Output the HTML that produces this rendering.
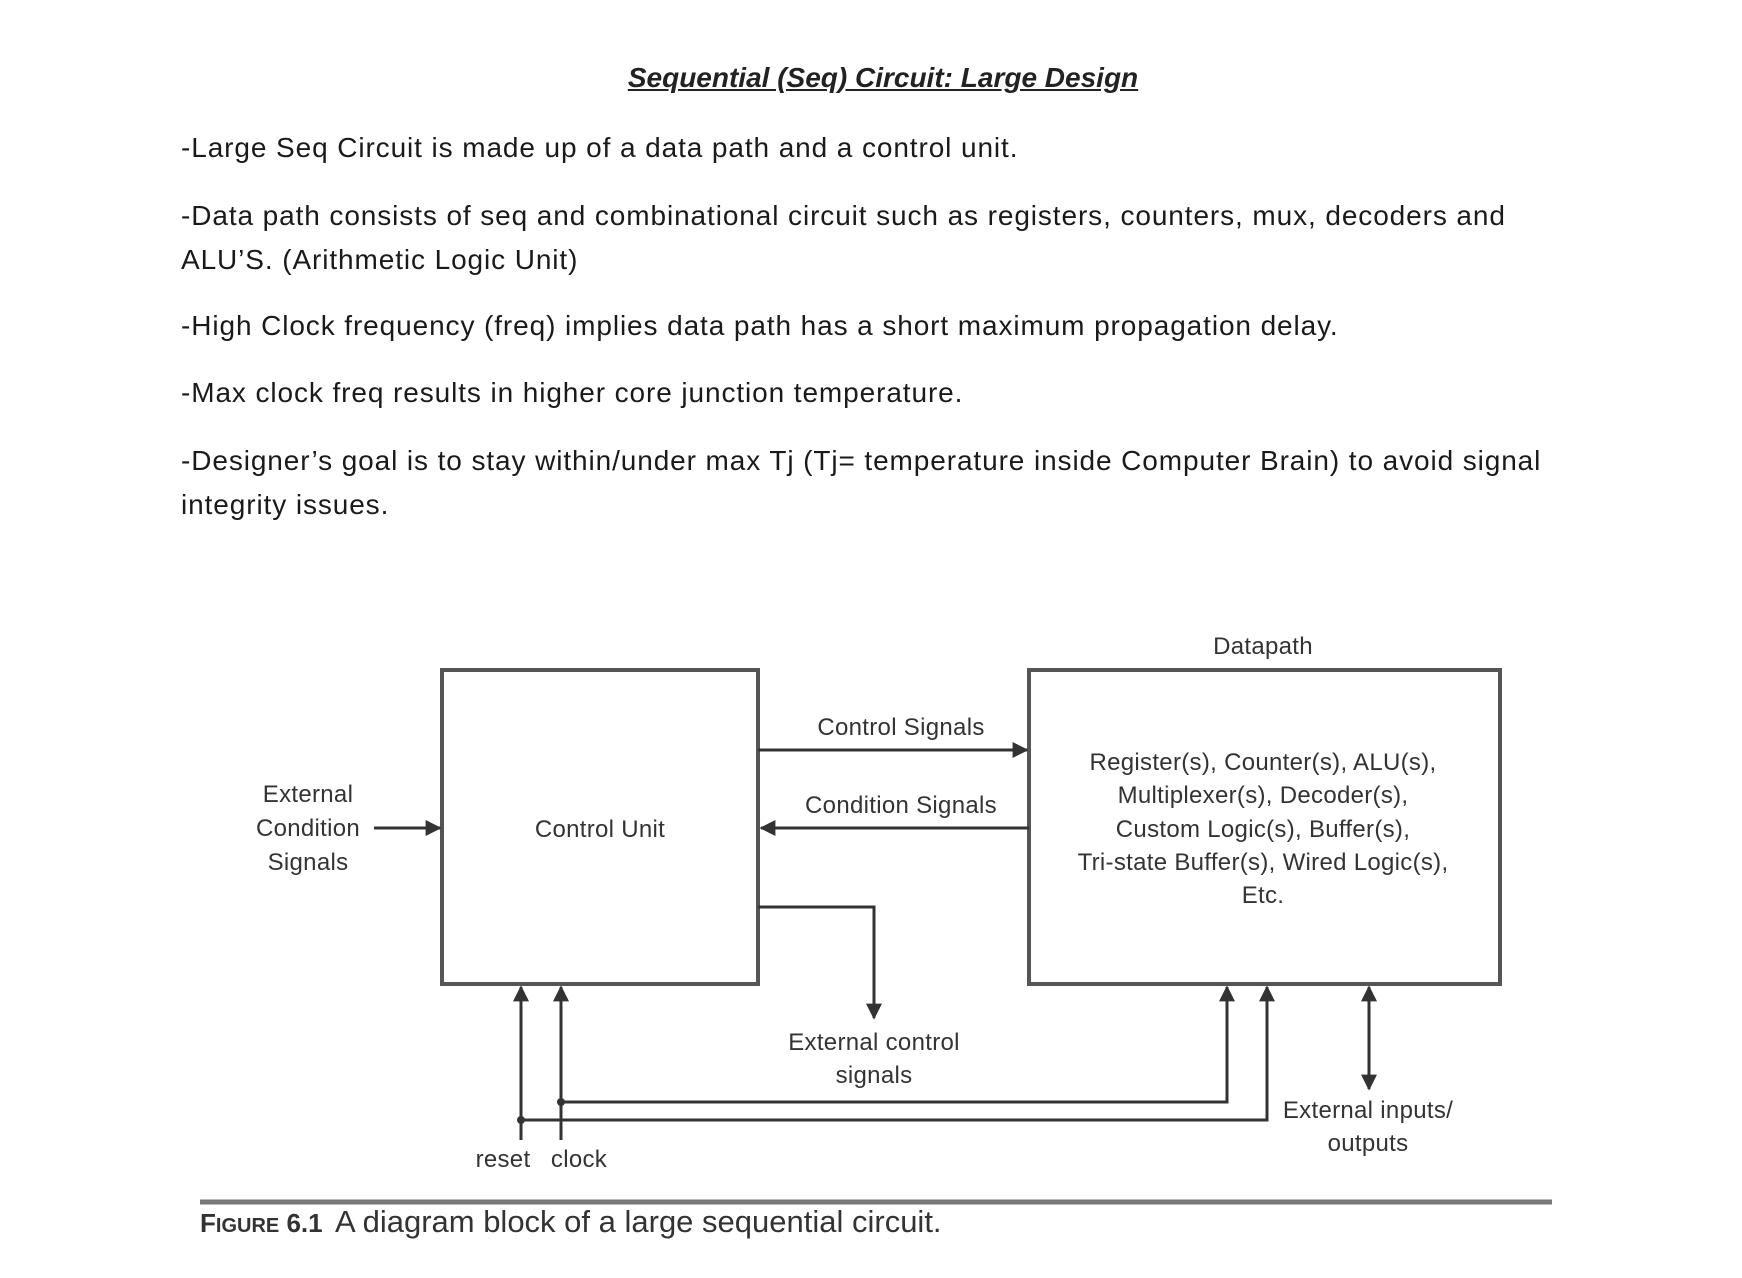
<!DOCTYPE html>
<html><head><style>
body{margin:0;width:1742px;height:1278px;background:#fff;overflow:hidden;font-family:"Liberation Sans",sans-serif;color:#222}
.t{position:absolute;white-space:nowrap}
.p{position:absolute;left:181px;font-size:28px;letter-spacing:0.9px;line-height:44px;color:#1a1a1a;white-space:nowrap}
</style></head><body>
<div class="t" style="left:0;width:1766px;text-align:center;top:62px;font-size:28px;font-weight:bold;font-style:italic;text-decoration:underline">Sequential (Seq) Circuit: Large Design</div>
<div class="p" style="top:126px">-Large Seq Circuit is made up of a data path and a control unit.</div>
<div class="p" style="top:194px">-Data path consists of seq and combinational circuit such as registers, counters, mux, decoders and<br>ALU’S. (Arithmetic Logic Unit)</div>
<div class="p" style="top:304px">-High Clock frequency (freq)  implies data path has a short maximum propagation delay.</div>
<div class="p" style="top:371px">-Max clock freq results in higher core junction temperature.</div>
<div class="p" style="top:439px">-Designer’s goal is to stay within/under max Tj (Tj= temperature inside Computer Brain) to avoid signal<br>integrity issues.</div>
<svg width="1742" height="1278" style="position:absolute;left:0;top:0" font-family="Liberation Sans, sans-serif" font-size="24" fill="#333">
<defs>
<marker id="b" viewBox="0 0 10 10" markerWidth="20" markerHeight="16" refX="9" refY="5" orient="auto" markerUnits="userSpaceOnUse"><path d="M0,0 L10,5 L0,10z" fill="#333"/></marker></defs>
<g stroke="#555" stroke-width="4" fill="none">
<rect x="442" y="670" width="316" height="314"/>
<rect x="1029" y="670" width="471" height="314"/>
</g>
<g stroke="#333" stroke-width="3" fill="none">
<line x1="758" y1="750" x2="1027" y2="750" marker-end="url(#b)"/>
<line x1="1029" y1="828" x2="761" y2="828" marker-end="url(#b)"/>
<line x1="374" y1="828" x2="440" y2="828" marker-end="url(#b)"/>
<polyline points="758,907 874,907 874,1018" marker-end="url(#b)"/>
<polyline points="521,1140 521,1120 1267,1120 1267,987" marker-end="url(#b)"/>
<line x1="521" y1="1120" x2="521" y2="987" marker-end="url(#b)"/>
<polyline points="561,1140 561,1102 1227,1102 1227,987" marker-end="url(#b)"/>
<line x1="561" y1="1102" x2="561" y2="987" marker-end="url(#b)"/>
<line x1="1369" y1="1035" x2="1369" y2="987" marker-end="url(#b)"/>
<line x1="1369" y1="1035" x2="1369" y2="1089" marker-end="url(#b)"/>
</g>
<circle cx="521" cy="1120" r="4" fill="#333"/><circle cx="561" cy="1102" r="4" fill="#333"/>
<line x1="200" y1="1202" x2="1552" y2="1202" stroke="#777" stroke-width="5"/>
<g text-anchor="middle" letter-spacing="0.3">
<text x="1263" y="654">Datapath</text>
<text x="901" y="735">Control Signals</text>
<text x="901" y="813">Condition Signals</text>
<text x="308" y="802">External</text><text x="308" y="836">Condition</text><text x="308" y="870">Signals</text>
<text x="600" y="837">Control Unit</text>
<text x="1263" y="770">Register(s), Counter(s), ALU(s),</text>
<text x="1263" y="803">Multiplexer(s), Decoder(s),</text>
<text x="1263" y="837">Custom Logic(s), Buffer(s),</text>
<text x="1263" y="870">Tri-state Buffer(s), Wired Logic(s),</text>
<text x="1263" y="903">Etc.</text>
<text x="874" y="1050">External control</text><text x="874" y="1083">signals</text>
<text x="1368" y="1118">External inputs/</text><text x="1368" y="1151">outputs</text>
<text x="503" y="1167">reset</text><text x="579" y="1167">clock</text>
</g>
<text x="200" y="1232" font-size="26" font-weight="bold" fill="#333">F<tspan font-size="20">IGURE</tspan> 6.1</text>
<text x="335" y="1232" font-size="31" fill="#333">A diagram block of a large sequential circuit.</text>
</svg>
</body></html>
